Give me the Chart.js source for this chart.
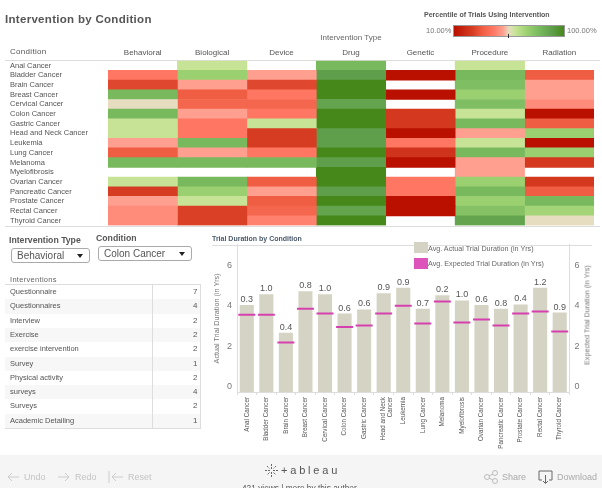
<!DOCTYPE html>
<html>
<head>
<meta charset="utf-8">
<title>Intervention by Condition</title>
<script src="https://cdn.jsdelivr.net/npm/chart.js@4/dist/chart.umd.min.js"></script>
<style>
  html, body { margin: 0; padding: 0; background: #fff; }
  body { width: 602px; height: 488px; position: relative; overflow: hidden; font-family: "Liberation Sans", Arial, sans-serif; color: #555; }
  canvas { position: absolute; }
  .t { position: absolute; white-space: nowrap; line-height: 1; will-change: transform; }
  .rule { position: absolute; background: #ddd; height: 1px; }
  .box { position: absolute; border: 1px solid #aaa; border-radius: 3px; font-size: 10px; line-height: 14px; padding-left: 5px; box-sizing: border-box; color: #555; background: #fff; will-change: transform; }
  .box:after { content: ""; position: absolute; right: 6px; top: 5px; border: 3.5px solid transparent; border-top: 4px solid #222; }
  #table .row { position: absolute; left: 0; width: 195px; height: 14.3px; font-size: 7.5px; line-height: 13px; color: #555; }
  #table .row span { position: absolute; will-change: transform; }
  #footer { position: absolute; left: 0; top: 455px; width: 602px; height: 33px; background: #f5f5f5; }
  #footer .t { color: #c4c4c4; font-size: 9px; }
  #footer svg { position: absolute; }
</style>
</head>
<body>
<div class="t" style="left:5px;top:14px;font-size:11.5px;font-weight:bold;letter-spacing:.3px;color:#555">Intervention by Condition</div>
<div class="t" style="left:424px;top:11px;font-size:7px;font-weight:bold;color:#555">Percentile of Trials Using Intervention</div>
<div class="t" style="left:426px;top:27px;font-size:7.5px;color:#777">10.00%</div>
<div id="ramp" style="position:absolute;left:453px;top:25px;width:112px;height:12px;box-sizing:border-box;border:1px solid #999"></div>
<div style="position:absolute;left:508px;top:34px;width:1px;height:4px;background:#333"></div>
<div class="t" style="left:567px;top:27px;font-size:7.5px;color:#777">100.00%</div>
<div class="t" style="left:10px;top:48px;font-size:8px;letter-spacing:.3px;color:#555">Condition</div>
<div class="rule" style="left:5px;top:60px;width:595px"></div>
<div class="rule" style="left:5px;top:226px;width:595px"></div>

<canvas id="heat" width="602" height="203" style="left:0;top:30px;width:602px;height:203px"></canvas>

<div class="t" style="left:9px;top:236px;font-size:8.7px;font-weight:bold;color:#555">Intervention Type</div>
<div class="box" style="left:11px;top:248px;width:79px;height:15px">Behavioral</div>
<div class="t" style="left:96px;top:234px;font-size:8.7px;font-weight:bold;color:#555">Condition</div>
<div class="box" style="left:98px;top:246px;width:94px;height:15px">Colon Cancer</div>
<div class="t" style="left:10px;top:276px;font-size:7.5px;letter-spacing:.3px;color:#666">Interventions</div>
<div id="table" style="position:absolute;left:5px;top:284px;width:195px;height:143px;border-top:1px solid #ddd;border-bottom:1px solid #ddd;border-right:1px solid #ddd"></div>

<div class="t" style="left:212px;top:235px;font-size:7px;font-weight:bold;color:#4b5a6b">Trial Duration by Condition</div>
<div class="rule" style="left:212px;top:245px;width:380px"></div>
<canvas id="dur" width="397" height="223" style="left:205px;top:232px;width:397px;height:223px"></canvas>
<div style="position:absolute;left:414px;top:242px;width:14px;height:11px;background:#d5d4c4"></div>
<div class="t" style="left:428px;top:245px;font-size:7.2px;color:#666">Avg. Actual Trial Duration (in Yrs)</div>
<div style="position:absolute;left:414px;top:258px;width:14px;height:11px;background:#dd55bb"></div>
<div class="t" style="left:428px;top:260px;font-size:7.2px;color:#666">Avg. Expected Trial Duration (in Yrs)</div>
<div class="t" style="left:587px;top:315px;font-size:7.2px;color:#777;transform:translate(-50%,-50%) rotate(-90deg)">Expected Trial Duration (in Yrs)</div>

<div id="footer">
  <svg style="left:7px;top:17px" width="12" height="10"><path d="M12 5H1M5 1L1 5l4 4" fill="none" stroke="#ccc"/></svg>
  <div class="t" style="left:24px;top:18px">Undo</div>
  <svg style="left:58px;top:17px" width="12" height="10"><path d="M0 5h11M7 1l4 4-4 4" fill="none" stroke="#ccc"/></svg>
  <div class="t" style="left:75px;top:18px">Redo</div>
  <svg style="left:108px;top:16px" width="15" height="12"><path d="M1 0v12M15 6H4M8 2L4 6l4 4" fill="none" stroke="#ccc"/></svg>
  <div class="t" style="left:128px;top:18px">Reset</div>
  <svg style="left:265px;top:9px" width="13" height="13"><path d="M6.5 0v5M6.5 8v5M0 6.5h5M8 6.5h5M2 2l2.5 2.5M8.5 8.5L11 11M11 2L8.500 4.500M4.500 8.500L2 11" fill="none" stroke="#666" stroke-dasharray="2 1"/></svg>
  <div class="t" style="left:281px;top:10px;font-size:11px;letter-spacing:2.8px;color:#555">+ableau</div>
  <div class="t" style="left:242px;top:29px;font-size:8.3px;color:#555">421 views | more by this author</div>
  <svg style="left:484px;top:15px" width="14" height="14"><circle cx="3" cy="7" r="2.500" fill="none" stroke="#bbb"/><circle cx="11" cy="3" r="2.500" fill="none" stroke="#bbb"/><circle cx="11" cy="11" r="2.500" fill="none" stroke="#bbb"/><path d="M5 6l4-2M5 8l4 2" stroke="#bbb"/></svg>
  <div class="t" style="left:502px;top:18px;color:#aaa">Share</div>
  <svg style="left:538px;top:15px" width="15" height="14"><path d="M4 10H1V1h13v9h-3M7.500 5v8M5 11l2.500 2.500L10 11" fill="none" stroke="#666"/></svg>
  <div class="t" style="left:557px;top:18px;color:#aaa">Download</div>
</div>

<script>
// heatmap
const conditions = ['Anal Cancer', 'Bladder Cancer', 'Brain Cancer', 'Breast Cancer', 'Cervical Cancer', 'Colon Cancer', 'Gastric Cancer', 'Head and Neck Cancer', 'Leukemia', 'Lung Cancer', 'Melanoma', 'Myelofibrosis', 'Ovarian Cancer', 'Pancreatic Cancer', 'Prostate Cancer', 'Rectal Cancer', 'Thyroid Cancer'];
const interventionTypes = ['Behavioral', 'Biological', 'Device', 'Drug', 'Genetic', 'Procedure', 'Radiation'];
const behavioral = [null, 42, 28, 80, 55, 80, 60, 60, 50, 33, 80, null, 60, 25, 50, 46, 46];
const biological = [60, 70, 50, 33, 36, 50, 42, 42, 80, 50, 80, null, 80, 70, 60, 26, 26];
const device = [null, 50, 28, 42, 36, 42, 60, 25, 25, 42, 80, null, 33, 50, 33, 36, 44];
const drug = [80, 90, 100, 100, 88, 100, 100, 90, 90, 100, 90, 100, 100, 90, 100, 88, 100];
const genetic = [null, 10, null, 10, null, 24, 24, 10, 42, 22, 10, null, 42, 42, 10, 10, null];
const procedure = [60, 80, 78, 70, 78, 60, 80, 50, 60, 80, 50, 50, 70, 80, 70, 76, 88];
const radiation = [null, 33, 50, 50, 46, 10, 33, 70, 10, 70, 24, null, 24, 33, 80, 68, 55];
const heatRows = [behavioral, biological, device, drug, genetic, procedure, radiation];

// colour scale
const stopAt = [10, 25, 33, 42, 50, 55, 60, 70, 80, 90, 100];
const stopColor = ['#b91000', '#d63c22', '#ef5d42', '#ff7763', '#ff9f90', '#e6dcbf', '#c7e496', '#9bd070', '#78b95e', '#5f9f4b', '#46881a'];

// trial duration
const durationConditions = ['Anal Cancer', 'Bladder Cancer', 'Brain Cancer', 'Breast Cancer', 'Cervical Cancer', 'Colon Cancer', 'Gastric Cancer', ['Head and Neck', 'Cancer'], 'Leukemia', 'Lung Cancer', 'Melanoma', 'Myelofibrosis', 'Ovarian Cancer', 'Pancreatic Cancer', 'Prostate Cancer', 'Rectal Cancer', 'Thyroid Cancer'];
const actualYrs = [4.30, 4.83, 2.93, 4.98, 4.83, 3.88, 4.08, 4.89, 5.16, 4.12, 4.78, 4.53, 4.30, 4.12, 4.33, 5.16, 3.93];
const expectedYrs = [3.82, 3.82, 2.45, 4.12, 3.88, 3.22, 3.29, 3.88, 4.26, 3.39, 4.48, 3.44, 3.59, 3.29, 3.88, 3.98, 2.99];
const diffLabels = ['0.3', '1.0', '0.4', '0.8', '1.0', '0.6', '0.6', '0.9', '0.9', '0.7', '0.2', '1.0', '0.6', '0.8', '0.4', '1.2', '0.9'];
const durationTicks = [0, 2, 4, 6];

// interventions table
const interventionNames = ['Questionnaire', 'Questionnaires', 'Interview', 'Exercise', 'exercise intervention', 'Survey', 'Physical activity', 'surveys', 'Surveys', 'Academic Detailing'];
const interventionCounts = [7, 4, 2, 2, 2, 1, 2, 4, 2, 1];

function hexRgb(h) {
    return [parseInt(h.substr(1, 2), 16), parseInt(h.substr(3, 2), 16), parseInt(h.substr(5, 2), 16)];
}

function heatColor(p) {
    let i = 0;
    while (i < stopAt.length - 2 && p > stopAt[i + 1]) i++;
    const f = Math.min(1, Math.max(0, (p - stopAt[i]) / (stopAt[i + 1] - stopAt[i])));
    const a = hexRgb(stopColor[i]), b = hexRgb(stopColor[i + 1]);
    return `rgb(${a.map((v, k) => Math.round(v + (b[k] - v) * f)).join(',')})`;
}

document.getElementById('ramp').style.background = 'linear-gradient(to right,' +
    stopAt.map((p, i) => `${stopColor[i]} ${(p - 10) / 0.9}%`).join(',') + ')';

Chart.defaults.font.family = '"Liberation Sans", Arial, sans-serif';
Chart.defaults.animation = false;

new Chart(document.getElementById('heat'), {
    type: 'bar',
    data: {
        labels: conditions,
        datasets: heatRows.map((row, j) => ({
            label: interventionTypes[j],
            data: row.map(p => p === null ? null : [j, j + 1]),
            backgroundColor: row.map(p => p === null ? 'rgba(0,0,0,0)' : heatColor(p)),
            borderWidth: 0,
            grouped: false,
            barPercentage: 1,
            categoryPercentage: 1
        }))
    },
    options: {
        indexAxis: 'y',
        responsive: false,
        layout: { padding: { left: 10, right: 8, top: 0, bottom: 1 } },
        plugins: { legend: { display: false }, tooltip: { enabled: false } },
        scales: {
            x: {
                position: 'top',
                min: 0,
                max: interventionTypes.length,
                grid: { display: false, tickLength: 0 },
                border: { display: false },
                title: { display: true, text: 'Intervention Type', color: '#666', font: { size: 8 }, padding: { top: 3, bottom: 2 } },
                afterBuildTicks: scale => { scale.ticks = interventionTypes.map((_, i) => ({ value: i + 0.5 })); },
                afterFit: scale => { scale.height = 30.7; },
                ticks: {
                    autoSkip: false,
                    maxRotation: 0,
                    color: '#555',
                    padding: 3,
                    font: { size: 8 },
                    callback: (v, i) => interventionTypes[i]
                }
            },
            y: {
                grid: { display: false },
                border: { display: false },
                afterFit: scale => { scale.width = 98; },
                ticks: { autoSkip: false, crossAlign: 'far', color: '#555', font: { size: 7.5 } }
            }
        }
    }
});

// value labels on top of the bars
const barLabels = {
    id: 'barLabels',
    afterDatasetsDraw(chart) {
        const ctx = chart.ctx;
        const bars = chart.getDatasetMeta(0).data;
        ctx.save();
        ctx.font = '9px "Liberation Sans", Arial, sans-serif';
        ctx.fillStyle = '#555';
        ctx.textAlign = 'center';
        ctx.textBaseline = 'bottom';
        bars.forEach((b, i) => ctx.fillText(diffLabels[i], b.x, b.y - 1));
        ctx.restore();
    }
};

const axisTick = v => [String(v), ''];

new Chart(document.getElementById('dur'), {
    type: 'bar',
    data: {
        labels: durationConditions,
        datasets: [{
            label: 'Avg. Actual Trial Duration (in Yrs)',
            data: actualYrs,
            backgroundColor: '#d5d4c4',
            barPercentage: 1,
            categoryPercentage: 0.72,
            yAxisID: 'y',
            order: 2
        }, {
            type: 'line',
            label: 'Avg. Expected Trial Duration (in Yrs)',
            data: expectedYrs,
            showLine: false,
            pointStyle: 'line',
            pointRadius: 8.500,
            pointBorderWidth: 2,
            pointBorderColor: '#d640ae',
            yAxisID: 'y2',
            order: 1
        }]
    },
    plugins: [barLabels],
    options: {
        responsive: false,
        layout: { padding: 0 },
        plugins: { legend: { display: false }, tooltip: { enabled: false } },
        scales: {
            x: {
                grid: { display: true, drawOnChartArea: false, color: '#ddd', tickLength: 3, offset: true },
                border: { color: '#ddd' },
                afterFit: scale => { scale.height = 63; },
                ticks: { autoSkip: false, minRotation: 90, maxRotation: 90, color: '#555', padding: 2, font: { size: 6.3, lineHeight: 1 } }
            },
            y: {
                min: 0,
                max: 7.28,
                grid: { display: false, tickLength: 3 },
                border: { color: '#ddd' },
                title: { display: true, text: 'Actual Trial Duration (in Yrs)', color: '#777', font: { size: 7.2 }, padding: { top: 8, bottom: 0 } },
                afterBuildTicks: scale => { scale.ticks = durationTicks.map(v => ({ value: v })); },
                afterFit: scale => { scale.width = 32; },
                ticks: { color: '#777', padding: 2, font: { size: 9 }, callback: axisTick }
            },
            y2: {
                position: 'right',
                min: 0,
                max: 7.28,
                grid: { display: false, tickLength: 3 },
                border: { color: '#ddd' },
                afterBuildTicks: scale => { scale.ticks = durationTicks.map(v => ({ value: v })); },
                afterFit: scale => { scale.width = 32.500; },
                ticks: { color: '#777', padding: 2, font: { size: 9 }, callback: axisTick }
            }
        }
    }
});

const table = document.getElementById('table');
interventionNames.forEach((name, i) => {
    const row = document.createElement('div');
    row.className = 'row';
    row.style.top = (i * 14.3) + 'px';
    row.style.background = i % 2 ? '#f7f7f7' : '#fff';
    row.innerHTML = `<span style="left:5px">${name}</span><span style="right:3px;font-size:8px">${interventionCounts[i]}</span>`;
    table.appendChild(row);
});
const sep = document.createElement('div');
sep.style.cssText = 'position:absolute;left:147px;top:0;bottom:0;width:1px;background:#ddd';
table.appendChild(sep);
</script>
</body>
</html>
